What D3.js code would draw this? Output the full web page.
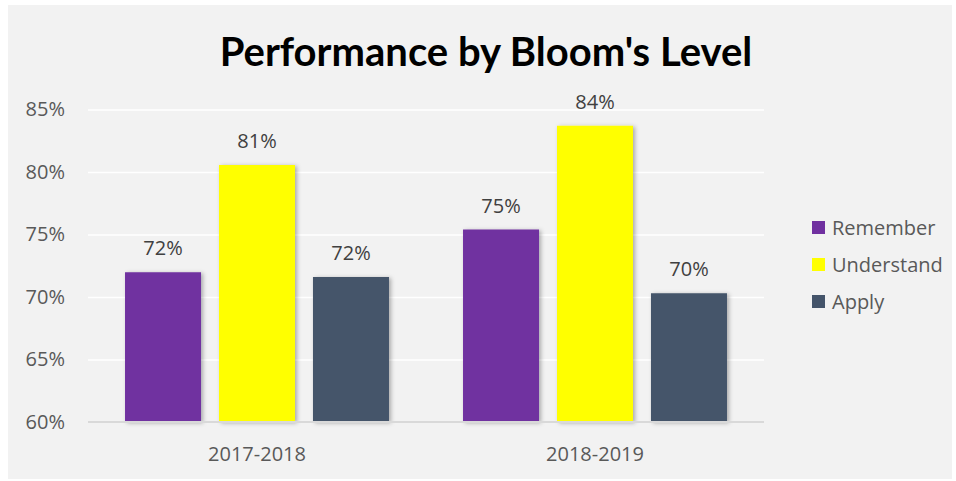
<!DOCTYPE html>
<html>
<head>
<meta charset="utf-8">
<script src="https://cdn.jsdelivr.net/npm/d3@7.9.0/dist/d3.min.js"></script>
<style>
    html, body { margin: 0; padding: 0; background: #ffffff; }
    svg { display: block; }
</style>
</head>
<body>
<div id="chart"></div>
<script>
// data
const years = ['2017-2018', '2018-2019'];
const levels = ['Remember', 'Understand', 'Apply'];
const remember = [0.7198, 0.754];
const understand = [0.8056, 0.837];
const apply = [0.716, 0.703];
const yTicks = [0.60, 0.65, 0.70, 0.75, 0.80, 0.85];
const colors = ['#7030a0', '#ffff00', '#44546a'];

const width = 956;
const height = 481;
const margin = { top: 109.5, right: 192, bottom: 59, left: 88 };

const usableArea = {
    top: margin.top,
    right: width - margin.right,
    bottom: height - margin.bottom,
    left: margin.left,
};

const series = [remember, understand, apply];
const rows = years.flatMap((year, i) =>
    levels.map((level, j) => ({ year, level, value: series[j][i] }))
);

const svg = d3.select('#chart')
    .append('svg')
    .attr('width', width)
    .attr('height', height);

// bar shadow
const defs = svg.append('defs');
defs.append('filter')
    .attr('id', 'shadow')
    .attr('x', '-20%').attr('y', '-20%')
    .attr('width', '140%').attr('height', '140%')
    .append('feDropShadow')
    .attr('dx', 2).attr('dy', 1)
    .attr('stdDeviation', 2)
    .attr('flood-color', '#000')
    .attr('flood-opacity', 0.3);

// chart background
svg.append('rect')
    .attr('x', 8).attr('y', 5)
    .attr('width', 944).attr('height', 474)
    .attr('fill', '#f2f2f2');

const xScale = d3.scaleBand()
    .domain(years)
    .range([usableArea.left, usableArea.right]);

const xInner = d3.scaleBand()
    .domain(levels)
    .range([0, xScale.bandwidth()])
    .paddingInner(0.1915)
    .paddingOuter(0.394);

const yScale = d3.scaleLinear()
    .domain([0.60, 0.85])
    .range([usableArea.bottom, usableArea.top]);

const colorScale = d3.scaleOrdinal().domain(levels).range(colors);

// gridlines
svg.append('g')
    .attr('class', 'gridlines')
    .attr('transform', `translate(${usableArea.left}, 0)`)
    .call(d3.axisLeft(yScale).tickValues(yTicks.slice(1)).tickFormat('')
        .tickSize(-(usableArea.right - usableArea.left)))
    .call(g => g.select('.domain').remove())
    .call(g => g.selectAll('line').attr('stroke', '#ffffff').attr('stroke-width', 1.5));

// y axis labels
svg.append('g')
    .attr('transform', `translate(65, 0)`)
    .call(d3.axisLeft(yScale).tickValues(yTicks).tickFormat(d3.format('.0%')).tickSize(0).tickPadding(0))
    .call(g => g.select('.domain').remove())
    .call(g => g.selectAll('text')
        .attr('fill', '#595959')
        .style('font-family', '"Open Sans", sans-serif')
        .style('font-size', '20px'));

// bars
svg.append('g')
    .selectAll('rect')
    .data(rows)
    .join('rect')
    .attr('x', d => xScale(d.year) + xInner(d.level))
    .attr('y', d => yScale(d.value))
    .attr('width', xInner.bandwidth())
    .attr('height', d => yScale(0.60) - yScale(d.value))
    .attr('fill', d => colorScale(d.level))
    .attr('filter', 'url(#shadow)');

// baseline
svg.append('line')
    .attr('x1', usableArea.left).attr('x2', usableArea.right)
    .attr('y1', yScale(0.60)).attr('y2', yScale(0.60))
    .attr('stroke', '#d9d9d9')
    .attr('stroke-width', 2);

// value labels
svg.append('g')
    .selectAll('text')
    .data(rows)
    .join('text')
    .attr('x', d => xScale(d.year) + xInner(d.level) + xInner.bandwidth() / 2)
    .attr('y', d => yScale(d.value) - 17)
    .attr('text-anchor', 'middle')
    .attr('fill', '#404040')
    .style('font-family', '"Open Sans", sans-serif')
    .style('font-size', '20px')
    .text(d => d3.format('.0%')(d.value));

// x axis labels
svg.append('g')
    .attr('transform', `translate(0, ${usableArea.bottom})`)
    .call(d3.axisBottom(xScale).tickSize(0).tickPadding(0))
    .call(g => g.select('.domain').remove())
    .call(g => g.selectAll('text')
        .attr('dy', null)
        .attr('y', 39)
        .attr('fill', '#595959')
        .style('font-family', '"Open Sans", sans-serif')
        .style('font-size', '20px'));

// title
svg.append('text')
    .attr('x', 486)
    .attr('y', 66)
    .attr('text-anchor', 'middle')
    .attr('fill', '#000000')
    .style('font-family', 'Lato, sans-serif')
    .style('font-weight', 'bold')
    .style('font-size', '40px')
    .text("Performance by Bloom's Level");

// legend
const legend = svg.append('g')
    .attr('transform', 'translate(812, 221)');

const items = legend.selectAll('g')
    .data(levels)
    .join('g')
    .attr('transform', (d, i) => `translate(0, ${i * 37})`);

items.append('rect')
    .attr('width', 13)
    .attr('height', 13)
    .attr('fill', d => colorScale(d));

items.append('text')
    .attr('x', 20)
    .attr('y', 14)
    .attr('fill', '#595959')
    .style('font-family', '"Open Sans", sans-serif')
    .style('font-size', '20px')
    .text(d => d);
</script>
</body>
</html>
